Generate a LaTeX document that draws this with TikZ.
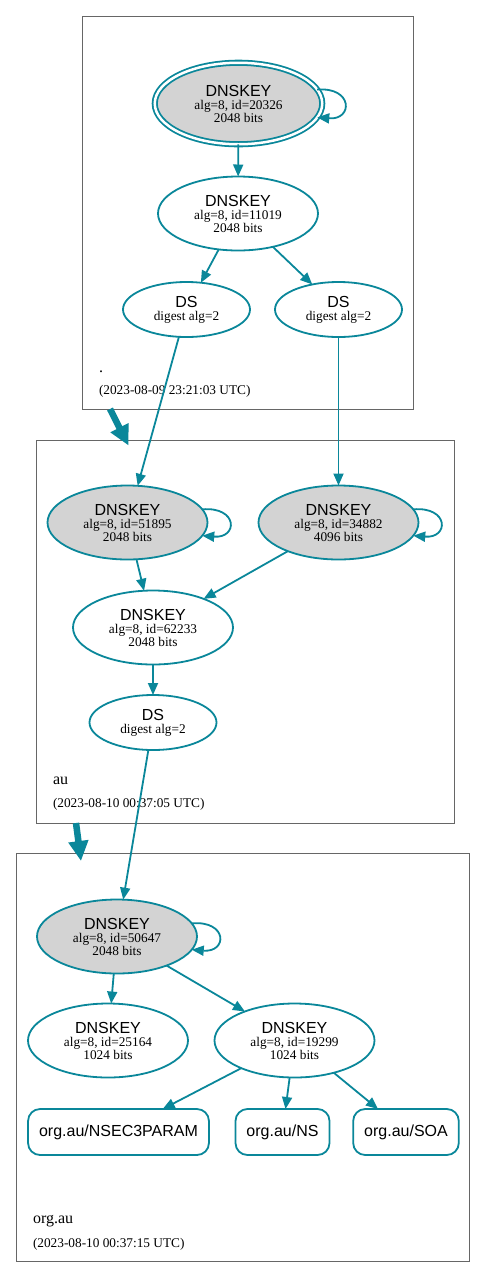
\documentclass[tikz,border=0pt]{standalone}
\usepackage{fontspec}
\setmainfont{Liberation Serif}
\setsansfont{Liberation Sans}
\usetikzlibrary{shapes.geometric, arrows.meta}

\definecolor{secure}{HTML}{0A879A}
\definecolor{keyfill}{HTML}{D3D3D3}
\definecolor{zoneline}{HTML}{666666}
\newcommand{\rrtype}[1]{{\sffamily\fontsize{16pt}{13pt}\selectfont #1}}

\begin{document}
\begin{tikzpicture}[x=1pt, y=-1pt,
    every node/.style={inner sep=0pt, outer sep=0pt},
    zone/.style={rectangle, draw=zoneline, line width=1pt},
    zonename/.style={anchor=base west, font=\fontsize{16pt}{18pt}\selectfont},
    stamp/.style={anchor=base west, font=\fontsize{13.3pt}{15pt}\selectfont},
    key/.style={ellipse, draw=secure, line width=1.8pt, fill=white, align=center,
        minimum width=160pt, minimum height=74pt, font=\fontsize{13.3pt}{13pt}\selectfont},
    ksk/.style={key, fill=keyfill},
    anchorkey/.style={ksk, double=white, double distance=2.5pt,
        minimum width=167.5pt, minimum height=81.5pt},
    dsrec/.style={key, minimum width=127pt, minimum height=55pt},
    rrset/.style={rectangle, rounded corners=12pt, draw=secure, line width=1.8pt,
        inner xsep=11pt, minimum height=46pt, font=\sffamily\fontsize{16pt}{18pt}\selectfont},
    edge/.style={draw=secure, line width=1.8pt, -{Triangle[length=12pt, width=10pt]}},
    delegation/.style={draw=secure, line width=6.5pt, -{Triangle[length=20pt, width=19pt]}}]
    \useasboundingbox (0,0) rectangle (485,1278);

    \node[zone, minimum width=331pt, minimum height=393pt] (rootzone) at (247.5,212.5) {};
    \node[zone, minimum width=418pt, minimum height=383pt] (auzone) at (245,631.5) {};
    \node[zone, minimum width=453pt, minimum height=408pt] (orgzone) at (242.5,1057) {};

    \node[zonename] (rootname) at (99,372) {.};
    \node[stamp] (rootstamp) at (99,394) {(2023-08-09 23:21:03 UTC)};
    \node[zonename] (auname) at (53,784) {au};
    \node[stamp] (austamp) at (53,807) {(2023-08-10 00:37:05 UTC)};
    \node[zonename] (orgname) at (33,1223) {org.au};
    \node[stamp] (orgstamp) at (33,1247) {(2023-08-10 00:37:15 UTC)};

    \node[anchorkey] (ksk20326) at (238.5,103.5) {\rrtype{DNSKEY}\\alg=8, id=20326\\2048 bits};
    \node[key] (zsk11019) at (238,213.5) {\rrtype{DNSKEY}\\alg=8, id=11019\\2048 bits};
    \node[dsrec] (rootdsleft) at (186.5,309.5) {\rrtype{DS}\\digest alg=2};
    \node[dsrec] (rootdsright) at (338.5,309.5) {\rrtype{DS}\\digest alg=2};

    \node[ksk] (ksk51895) at (127.5,522.5) {\rrtype{DNSKEY}\\alg=8, id=51895\\2048 bits};
    \node[ksk] (ksk34882) at (338.5,522.5) {\rrtype{DNSKEY}\\alg=8, id=34882\\4096 bits};
    \node[key] (zsk62233) at (153,627.5) {\rrtype{DNSKEY}\\alg=8, id=62233\\2048 bits};
    \node[dsrec] (auds) at (153,722.5) {\rrtype{DS}\\digest alg=2};

    \node[ksk] (ksk50647) at (117,936.5) {\rrtype{DNSKEY}\\alg=8, id=50647\\2048 bits};
    \node[key] (zsk25164) at (108,1040.5) {\rrtype{DNSKEY}\\alg=8, id=25164\\1024 bits};
    \node[key] (zsk19299) at (294.5,1040.5) {\rrtype{DNSKEY}\\alg=8, id=19299\\1024 bits};
    \node[rrset] (nsec3param) at (118.5,1132) {org.au/NSEC3PARAM};
    \node[rrset] (nsrr) at (282.5,1132) {org.au/NS};
    \node[rrset] (soarr) at (406,1132) {org.au/SOA};

    \coordinate (rootcut) at (110,409);
    \coordinate (auin) at (128.5,445.5);
    \coordinate (aucut) at (76,823);
    \coordinate (orgin) at (81,861);
    \draw[delegation] (rootcut) -- (auin);
    \draw[delegation] (aucut) -- (orgin);

    \draw[edge] (ksk20326.10) .. controls +(36,-3) and +(36,3) .. (ksk20326.-10);
    \draw[edge] (ksk51895.10) .. controls +(36,-3) and +(36,3) .. (ksk51895.-10);
    \draw[edge] (ksk34882.10) .. controls +(36,-3) and +(36,3) .. (ksk34882.-10);
    \draw[edge] (ksk50647.10) .. controls +(36,-3) and +(36,3) .. (ksk50647.-10);

    \draw[edge] (ksk20326) -- (zsk11019);
    \draw[edge] (zsk11019) -- (rootdsleft);
    \draw[edge] (zsk11019) -- (rootdsright);
    \draw[edge] (rootdsleft) -- (ksk51895);
    \draw[edge] (rootdsright) -- (ksk34882);
    \draw[edge] (ksk51895) -- (zsk62233);
    \draw[edge] (ksk34882) -- (zsk62233);
    \draw[edge] (zsk62233) -- (auds);
    \draw[edge] (auds) -- (ksk50647);
    \draw[edge] (ksk50647) -- (zsk25164);
    \draw[edge] (ksk50647) -- (zsk19299);
    \draw[edge] (zsk19299) -- (nsec3param);
    \draw[edge] (zsk19299) -- (nsrr);
    \draw[edge] (zsk19299) -- (soarr);
\end{tikzpicture}
\end{document}
